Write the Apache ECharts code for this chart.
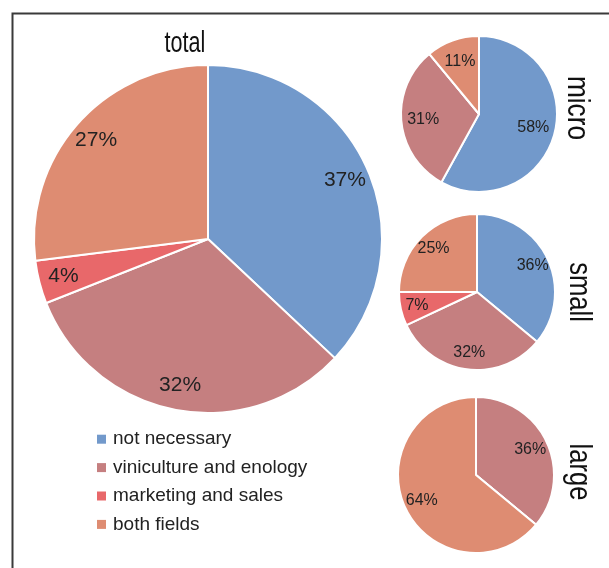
<!DOCTYPE html>
<html>
<head>
<meta charset="utf-8">
<script src="https://cdn.jsdelivr.net/npm/echarts@6/dist/echarts.min.js"></script>
<style>
  html, body { margin: 0; padding: 0; background: #fff; }
  #chart { width: 609px; height: 568px; }
</style>
</head>
<body>
<div id="chart"></div>
<script>
// Shares (%) of respondents by required training field, per company size
const categories = ['not necessary', 'viniculture and enology', 'marketing and sales', 'both fields'];
const totalShares = [37, 32, 4, 27];
const microShares = [58, 31, 0, 11];
const smallShares = [36, 32, 7, 25];
const largeShares = [0, 36, 0, 64];
const pieTitles = ['total', 'micro', 'small', 'large'];

const colors = ['#7299CB', '#C57F80', '#E8686A', '#DE8C72'];
const FONT = "'Liberation Sans', Arial, sans-serif";

function pieData(values) {
  return categories.map((name, i) => ({
    name: name,
    value: values[i],
    itemStyle: { color: colors[i] }
  }));
}

// Filled slices
function slicePie(values, center, r) {
  return {
    type: 'pie',
    center: center,
    radius: [0, r],
    startAngle: 90,
    clockwise: true,
    silent: true,
    data: pieData(values),
    itemStyle: { borderColor: '#fff', borderWidth: 2 },
    label: { show: false },
    labelLine: { show: false },
    emphasis: { disabled: true }
  };
}

// Transparent ring carrying the percentage labels further out along each slice
function labelRing(values, center, r, innerFrac, fontSize) {
  return {
    type: 'pie',
    center: center,
    radius: [r * innerFrac, r],
    startAngle: 90,
    clockwise: true,
    silent: true,
    data: pieData(values).map(d => Object.assign({}, d, { itemStyle: { color: 'rgba(0,0,0,0)' } })),
    itemStyle: { borderWidth: 0 },
    label: {
      show: true,
      position: 'inside',
      fontFamily: FONT,
      fontSize: fontSize,
      color: '#222',
      formatter: p => (p.value > 0 ? p.value + '%' : '')
    },
    labelLine: { show: false },
    emphasis: { disabled: true }
  };
}

// Condensed heading text (rotated for the side pies)
function heading(text, x, y, size, rotated, squeeze) {
  return {
    type: 'text',
    x: x, y: y,
    rotation: rotated ? -Math.PI / 2 : 0,
    scaleX: squeeze,
    silent: true,
    style: { text: text, font: size + 'px ' + FONT, fill: '#111', align: 'center', verticalAlign: 'middle' }
  };
}

const chart = echarts.init(document.getElementById('chart'), null, { renderer: 'canvas' });

const mainC = [208, 239], mainR = 174;
const microC = [479, 114], smallC = [477, 292], largeC = [476, 475], sideR = 78;

chart.setOption({
  animation: false,
  backgroundColor: '#fff',
  legend: {
    orient: 'vertical',
    left: 97,
    top: 428,
    padding: 0,
    icon: 'rect',
    itemWidth: 9,
    itemHeight: 9,
    itemGap: 6,
    selectedMode: false,
    itemStyle: { borderWidth: 0 },
    data: categories.map((name, i) => ({ name: name, itemStyle: { color: colors[i], borderWidth: 0 } })),
    textStyle: { fontFamily: FONT, fontSize: 19, color: '#222', lineHeight: 22.4, padding: [0, 0, 0, 2] }
  },
  graphic: [
    {
      type: 'rect',
      left: 10, top: 11,
      shape: { width: 640, height: 600 },
      style: { fill: 'none', stroke: '#3a3a3a', lineWidth: 2 },
      silent: true
    },
    heading(pieTitles[0], 185, 44, 30, false, 0.72),
    heading(pieTitles[1], 577, 108, 32, true, 0.82),
    heading(pieTitles[2], 579, 292, 32, true, 0.8),
    heading(pieTitles[3], 579, 472, 32, true, 0.8)
  ],
  series: [
    slicePie(totalShares, mainC, mainR),
    slicePie(microShares, microC, sideR),
    slicePie(smallShares, smallC, sideR),
    slicePie(largeShares, largeC, sideR),
    labelRing(totalShares, mainC, mainR, 0.68, 21),
    labelRing(microShares, microC, sideR, 0.36, 16),
    labelRing(smallShares, smallC, sideR, 0.5, 16),
    labelRing(largeShares, largeC, sideR, 0.46, 16)
  ]
});
</script>
</body>
</html>
